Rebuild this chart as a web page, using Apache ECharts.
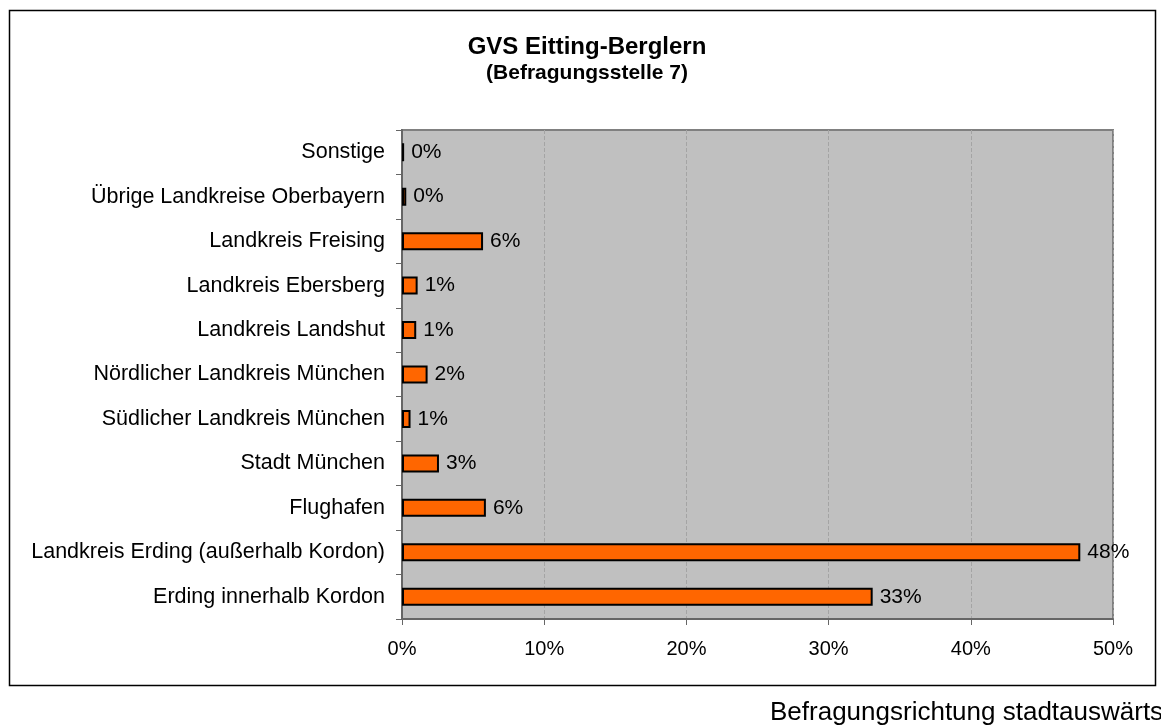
<!DOCTYPE html>
<html>
<head>
<meta charset="utf-8">
<script src="https://cdn.jsdelivr.net/npm/echarts@6/dist/echarts.min.js"></script>
<style>
  html, body { margin: 0; padding: 0; background: #fff; }
  #myChart { width: 1161px; height: 727px; }
</style>
</head>
<body>
<div id="myChart"></div>
<script>
// categories bottom -> top (category axis starts at the bottom)
var categories = [
  'Erding innerhalb Kordon',
  'Landkreis Erding (außerhalb Kordon)',
  'Flughafen',
  'Stadt München',
  'Südlicher Landkreis München',
  'Nördlicher Landkreis München',
  'Landkreis Landshut',
  'Landkreis Ebersberg',
  'Landkreis Freising',
  'Übrige Landkreise Oberbayern',
  'Sonstige'
];
// share in percent
var shares = [33.1, 47.7, 5.9, 2.6, 0.6, 1.8, 1.0, 1.1, 5.7, 0.3, 0.15];

var titleText = 'GVS Eitting-Berglern';
var subtitleText = '(Befragungsstelle 7)';
var footText = 'Befragungsrichtung stadtauswärts';

var font = '"Liberation Sans", Arial, sans-serif';

var dom = document.getElementById('myChart');
var myChart = echarts.init(dom, null, { renderer: 'canvas' });

var option = {
  animation: false,
  backgroundColor: '#ffffff',
  textStyle: { fontFamily: font },
  title: {
    text: titleText,
    subtext: subtitleText,
    left: 582,
    top: 30,
    textAlign: 'center',
    itemGap: 4,
    textStyle: { fontFamily: font, fontSize: 24, fontWeight: 'bold', color: '#000' },
    subtextStyle: { fontFamily: font, fontSize: 21, fontWeight: 'bold', color: '#000' }
  },
  grid: {
    left: 402,
    right: 48,
    top: 130,
    bottom: 108,
    show: true,
    backgroundColor: '#c0c0c0',
    borderColor: '#808080',
    borderWidth: 2
  },
  xAxis: {
    type: 'value',
    min: 0,
    max: 50,
    interval: 10,
    axisLine: { show: true, lineStyle: { color: '#666', width: 2 } },
    axisTick: { show: true, length: 6, lineStyle: { color: '#666' } },
    axisLabel: {
      formatter: '{value}%',
      fontSize: 20,
      color: '#000',
      margin: 20,
      fontFamily: font
    },
    splitLine: { show: true, lineStyle: { color: '#a4a4a4', type: 'dashed', width: 1 } }
  },
  yAxis: {
    type: 'category',
    data: categories,
    axisLine: { show: true, lineStyle: { color: '#666', width: 2 } },
    axisTick: { show: true, length: 6, lineStyle: { color: '#666' } },
    axisLabel: { fontSize: 21.5, color: '#000', margin: 17, fontFamily: font },
    splitLine: { show: false }
  },
  series: [
    {
      type: 'bar',
      data: shares,
      barWidth: 18,
      itemStyle: { color: '#ff6600', borderColor: '#000', borderWidth: 2 },
      label: {
        show: true,
        position: 'right',
        distance: 7,
        fontSize: 21,
        color: '#000',
        fontFamily: font,
        formatter: function (p) { return Math.round(p.value) + '%'; }
      }
    }
  ],
  graphic: [
    {
      type: 'rect',
      shape: { x: 9.5, y: 10.5, width: 1146, height: 675 },
      style: { fill: null, stroke: '#000', lineWidth: 1.5 },
      silent: true
    },
    {
      type: 'text',
      left: 770,
      top: 700,
      style: { text: footText, fontSize: 26, fontFamily: font, fill: '#000' }
    }
  ]
};

myChart.setOption(option);
window.addEventListener('resize', myChart.resize);
</script>
</body>
</html>
